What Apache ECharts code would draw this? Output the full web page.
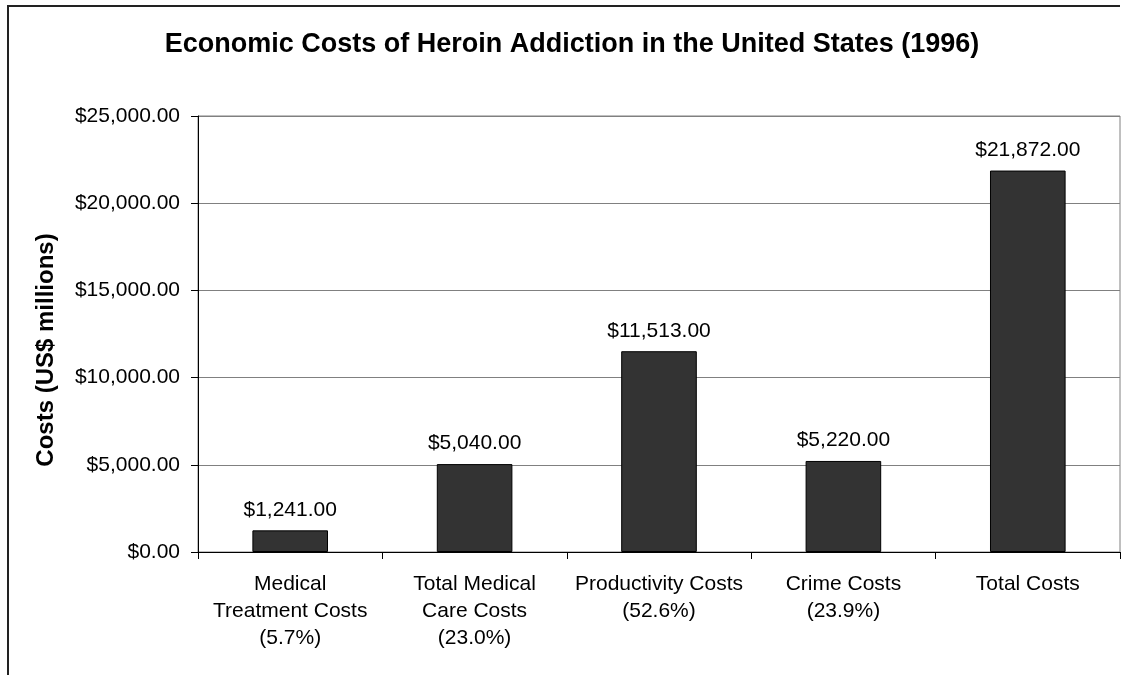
<!DOCTYPE html>
<html>
<head>
<meta charset="utf-8">
<script src="https://cdn.jsdelivr.net/npm/echarts@6/dist/echarts.min.js"></script>
<style>
  html, body { margin: 0; padding: 0; background: #fff; }
  #chart { width: 1127px; height: 675px; }
</style>
</head>
<body>
<div id="chart"></div>
<script>
// Cost categories (with share of total in parentheses)
const categories = [
  'Medical\nTreatment Costs\n(5.7%)',
  'Total Medical\nCare Costs\n(23.0%)',
  'Productivity Costs\n(52.6%)',
  'Crime Costs\n(23.9%)',
  'Total Costs'
];
// Costs in US$ millions
const costs = [1241, 5040, 11513, 5220, 21872];
// Value axis range
const yMin = 0;
const yMax = 25000;
const yStep = 5000;

const FONT = '"Liberation Sans", Arial, sans-serif';

function money(v) {
  return '$' + Number(v).toLocaleString('en-US', { minimumFractionDigits: 2, maximumFractionDigits: 2 });
}

const chart = echarts.init(document.getElementById('chart'), null, { renderer: 'canvas' });

chart.setOption({
  backgroundColor: '#ffffff',
  animation: false,
  textStyle: { fontFamily: FONT },
  grid: {
    left: 198, right: 7, top: 116, bottom: 123,
    show: true,
    borderColor: '#808080',
    borderWidth: 1,
    backgroundColor: '#ffffff'
  },
  xAxis: {
    type: 'category',
    data: categories,
    axisLine: { show: true, lineStyle: { color: '#000', width: 1 } },
    axisTick: { show: true, length: 7, alignWithLabel: false, lineStyle: { color: '#000' } },
    axisLabel: {
      interval: 0,
      margin: 19,
      color: '#000',
      fontFamily: FONT,
      fontSize: 21,
      lineHeight: 27,
      align: 'center'
    }
  },
  yAxis: {
    type: 'value',
    min: yMin,
    max: yMax,
    interval: yStep,
    axisLine: { show: true, lineStyle: { color: '#000', width: 1 } },
    axisTick: { show: true, length: 7, lineStyle: { color: '#000' } },
    axisLabel: {
      margin: 18,
      color: '#000',
      fontFamily: FONT,
      fontSize: 21,
      formatter: money
    },
    splitLine: { show: true, lineStyle: { color: '#808080', width: 1 } }
  },
  series: [{
    type: 'bar',
    data: costs,
    barCategoryGap: '59%',
    itemStyle: { color: '#333333', borderColor: '#000', borderWidth: 1 },
    label: {
      show: true,
      position: 'top',
      distance: 10,
      color: '#000',
      fontFamily: FONT,
      fontSize: 21,
      formatter: p => money(p.value)
    }
  }],
  graphic: [
    {
      // outer frame (left and top edges)
      type: 'polyline',
      silent: true,
      shape: { points: [[8, 675], [8, 6], [1120, 6]] },
      style: { stroke: '#222', lineWidth: 2, fill: null }
    },
    {
      // chart title
      type: 'text',
      silent: true,
      x: 572,
      y: 45,
      style: {
        text: 'Economic Costs of Heroin Addiction in the United States (1996)',
        font: 'bold 27px ' + FONT,
        fill: '#000',
        align: 'center',
        verticalAlign: 'middle'
      }
    },
    {
      // value axis title
      type: 'text',
      silent: true,
      x: 46,
      y: 350,
      rotation: Math.PI / 2,
      style: {
        text: 'Costs (US$ millions)',
        font: 'bold 24px ' + FONT,
        fill: '#000',
        align: 'center',
        verticalAlign: 'middle'
      }
    }
  ]
});
</script>
</body>
</html>
